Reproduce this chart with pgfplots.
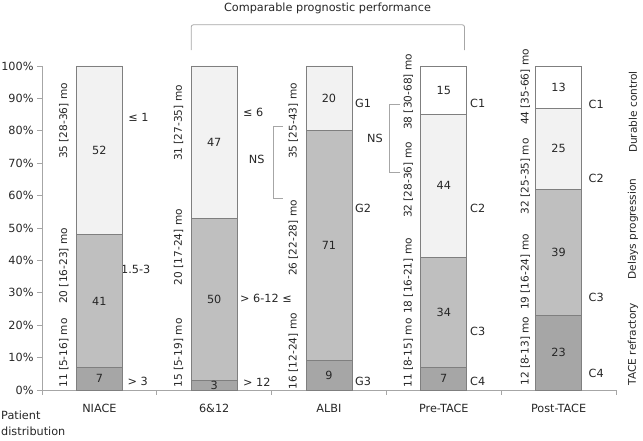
\documentclass[border=0pt]{standalone}
\usepackage{fontspec}
\setmainfont{DejaVu Sans}
\usepackage{pgfplots}
\usepackage{pgfplotstable}
\pgfplotsset{compat=1.18}

\definecolor{cLight}{HTML}{F2F2F2}
\definecolor{cMid}{HTML}{BFBFBF}
\definecolor{cDark}{HTML}{A6A6A6}
\definecolor{cEdge}{HTML}{7F7F7F}
\definecolor{cAxis}{HTML}{A6A6A6}
\definecolor{cText}{HTML}{262626}

% share of patients (%) per class, bottom to top
\pgfplotstableread[col sep=comma]{
x,y,lab
0,7,7
1,3,3
2,9,9
3,7,7
4,23,23
}\sDark
\pgfplotstableread[col sep=comma]{
x,y,lab
0,41,41
1,50,50
2,71,71
3,34,34
4,39,39
}\sMid
\pgfplotstableread[col sep=comma]{
x,y,lab
0,52,52
1,47,47
2,20,20
3,44,44
4,25,25
}\sLight
\pgfplotstableread[col sep=comma]{
x,y,lab
0,0,
1,0,
2,0,
3,15,15
4,13,13
}\sWhite

\tikzset{vlab/.style={rotate=90, font=\fontsize{10.6}{12}\selectfont}}

\begin{document}
\begin{tikzpicture}[font=\fontsize{11.3}{13}\selectfont, text=cText]
  % page = reference frame, axis box from (0,0) to (574bp,324bp)
  \useasboundingbox (-42bp,-51bp) rectangle (601bp,390bp);
  \begin{axis}[
      at={(0,0)}, anchor=south west,
      width=574bp, height=324bp, scale only axis,
      xmin=-0.5, xmax=4.5, ymin=0, ymax=100,
      clip=false,
      ybar stacked, bar width=46bp,
      axis x line*=bottom, axis y line*=left,
      axis line style={cAxis, line width=0.8bp},
      xtick={0,...,4},
      xticklabels={NIACE, 6\&12, ALBI, Pre-TACE, Post-TACE},
      minor xtick={-0.5,0.5,...,4.5},
      major x tick style={draw=none},
      minor x tick style={draw=cAxis, line width=0.8bp},
      y tick style={draw=cAxis, line width=0.8bp},
      major tick length=5bp, minor tick length=5bp,
      tick align=outside,
      ytick={0,10,...,100},
      yticklabels={0\%,10\%,20\%,30\%,40\%,50\%,60\%,70\%,80\%,90\%,100\%},
      xticklabel style={yshift=-6bp},
      point meta=explicit symbolic,
      nodes near coords,
      every node near coord/.append style={anchor=center},
    ]
    \addplot[fill=cDark, draw=cEdge, line width=0.8bp] table[x=x, y=y, meta=lab] {\sDark};
    \addplot[fill=cMid, draw=cEdge, line width=0.8bp] table[x=x, y=y, meta=lab] {\sMid};
    \addplot[fill=cLight, draw=cEdge, line width=0.8bp] table[x=x, y=y, meta=lab] {\sLight};
    \addplot[fill=white, draw=cEdge, line width=0.8bp] table[x=x, y=y, meta=lab] {\sWhite};

    % median survival, left of each bar
    \node[vlab] at (axis cs:-0.31,83)   {35 [28-36] mo};
    \node[vlab] at (axis cs:-0.31,38.3) {20 [16-23] mo};
    \node[vlab] at (axis cs:-0.31,11.4) {11 [5-16] mo};
    \node[vlab] at (axis cs:0.69,82.4)  {31 [27-35] mo};
    \node[vlab] at (axis cs:0.69,44.1)  {20 [17-24] mo};
    \node[vlab] at (axis cs:0.69,11.4)  {15 [5-19] mo};
    \node[vlab] at (axis cs:1.69,83)    {35 [25-43] mo};
    \node[vlab] at (axis cs:1.69,46.9)  {26 [22-28] mo};
    \node[vlab] at (axis cs:1.69,12)    {16 [12-24] mo};
    \node[vlab] at (axis cs:2.69,92)    {38 [30-68] mo};
    \node[vlab] at (axis cs:2.69,64.8)  {32 [28-36] mo};
    \node[vlab] at (axis cs:2.69,35.2)  {18 [16-21] mo};
    \node[vlab] at (axis cs:2.69,11.4)  {11 [8-15] mo};
    \node[vlab] at (axis cs:3.71,93.5)  {44 [35-66] mo};
    \node[vlab] at (axis cs:3.71,66)    {32 [25-35] mo};
    \node[vlab] at (axis cs:3.71,36.4)  {19 [16-24] mo};
    \node[vlab] at (axis cs:3.71,12)    {12 [8-13] mo};
    \node[vlab] at (axis cs:4.648,85.8) {Durable control};
    \node[vlab] at (axis cs:4.648,49.7) {Delays progression};
    \node[vlab] at (axis cs:4.648,14.2) {TACE refractory};

    % class names, right of each bar
    \node[anchor=west, inner sep=0pt] at (axis cs:0.25,84)    {≤ 1};
    \node[anchor=west, inner sep=0pt] at (axis cs:0.188,37.3) {1.5-3};
    \node[anchor=west, inner sep=0pt] at (axis cs:0.245,2.5)  {> 3};
    \node[anchor=west, inner sep=0pt] at (axis cs:1.25,85.8)  {≤ 6};
    \node[anchor=west, inner sep=0pt] at (axis cs:1.225,28.4) {> 6-12 ≤};
    \node[anchor=west, inner sep=0pt] at (axis cs:1.25,2.5)   {> 12};
    \node[anchor=west, inner sep=0pt] at (axis cs:2.226,88.6) {G1};
    \node[anchor=west, inner sep=0pt] at (axis cs:2.226,56.2) {G2};
    \node[anchor=west, inner sep=0pt] at (axis cs:2.226,2.5)  {G3};
    \node[anchor=west, inner sep=0pt] at (axis cs:3.228,88.6) {C1};
    \node[anchor=west, inner sep=0pt] at (axis cs:3.228,56.2) {C2};
    \node[anchor=west, inner sep=0pt] at (axis cs:3.228,18.2) {C3};
    \node[anchor=west, inner sep=0pt] at (axis cs:3.228,2.5)  {C4};
    \node[anchor=west, inner sep=0pt] at (axis cs:4.26,88)    {C1};
    \node[anchor=west, inner sep=0pt] at (axis cs:4.26,65.4)  {C2};
    \node[anchor=west, inner sep=0pt] at (axis cs:4.26,28.7)  {C3};
    \node[anchor=west, inner sep=0pt] at (axis cs:4.26,5.2)   {C4};
    \node[anchor=north west, inner sep=0pt, align=left, font=\fontsize{11.3}{15.5}\selectfont] at (axis cs:-0.857,-6.5) {Patient\\distribution};

    % NS brackets
    \draw[cAxis, line width=0.8bp] (axis cs:1.60,81.5) -- (axis cs:1.512,81.5) -- (axis cs:1.512,59) -- (axis cs:1.60,59);
    \node at (axis cs:1.37,71.3) {NS};
    \draw[cAxis, line width=0.8bp] (axis cs:2.62,88) -- (axis cs:2.53,88) -- (axis cs:2.53,67.3) -- (axis cs:2.62,67.3);
    \node at (axis cs:2.40,77.8) {NS};

    % top bracket
    \draw[cAxis, line width=0.8bp, rounded corners=2bp] (axis cs:0.80,104.9) -- (axis cs:0.80,112.7) -- (axis cs:3.18,112.7) -- (axis cs:3.18,104.9);
    \node at (axis cs:1.987,117.9) {Comparable prognostic performance};
  \end{axis}
\end{tikzpicture}
\end{document}
